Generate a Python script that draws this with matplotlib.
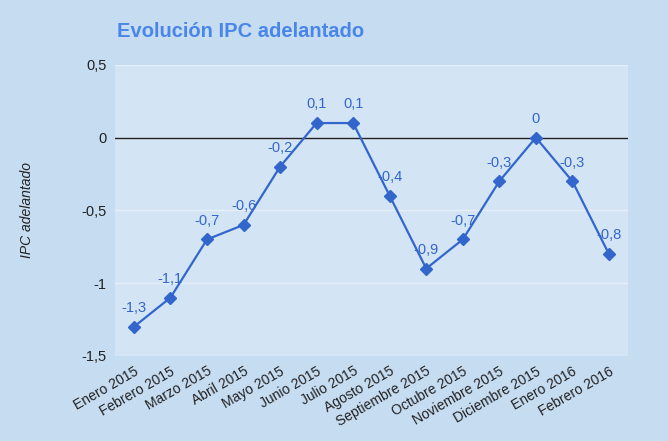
import matplotlib
matplotlib.use("Agg")
import matplotlib.pyplot as plt
plt.rcParams["font.family"] = "Liberation Sans"

months = ["Enero 2015","Febrero 2015","Marzo 2015","Abril 2015","Mayo 2015","Junio 2015",
          "Julio 2015","Agosto 2015","Septiembre 2015","Octubre 2015","Noviembre 2015",
          "Diciembre 2015","Enero 2016","Febrero 2016"]
ipc = [-1.3,-1.1,-0.7,-0.6,-0.2,0.1,0.1,-0.4,-0.9,-0.7,-0.3,0,-0.3,-0.8]
yticks = [0.5, 0, -0.5, -1, -1.5]
ylabels = ["0,5", "0", "-0,5", "-1", "-1,5"]

fig = plt.figure(figsize=(6.68, 4.41), dpi=100, facecolor="#c6dcf1")
ax = fig.add_axes([0.172, 0.193, 0.768, 0.660], facecolor="#d3e5f5")
x = list(range(len(months)))
ax.plot(x, ipc, color="#3366cc", lw=1.6, marker="D", ms=6, zorder=3)
for xi, v in zip(x, ipc):
    t = ("%g" % v).replace(".", ",")
    ax.text(xi, v + 0.08, t, ha="center", va="bottom", fontsize=10.5, color="#3366cc")
ax.set_xlim(-0.52, 13.52)
ax.set_ylim(-1.5, 0.5)
ax.set_yticks(yticks)
ax.set_yticklabels(ylabels, fontsize=10.5, color="#222222")
for y in yticks:
    ax.axhline(y, color="#e6eff8", lw=1, zorder=1)
ax.axhline(0, color="#222222", lw=1, zorder=2)
ax.set_xticks(x)
ax.set_xticklabels(months, rotation=30, ha="right", rotation_mode="anchor", fontsize=10, color="#222222")
ax.tick_params(length=0, pad=6)
for s in ax.spines.values():
    s.set_visible(False)
ax.set_ylabel("IPC adelantado", fontsize=10, style="italic", labelpad=34, color="#222222")
fig.text(0.175, 0.915, "Evolución IPC adelantado", fontsize=14.5, weight="bold", color="#4a86e8")
fig.savefig("out.png", dpi=100, facecolor=fig.get_facecolor())
